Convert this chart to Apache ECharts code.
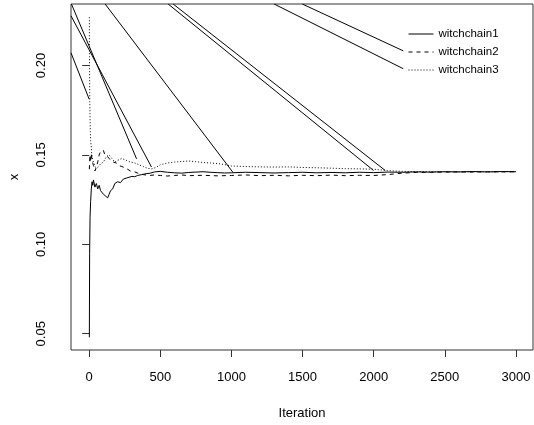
<!DOCTYPE html>
<html>
<head>
<meta charset="utf-8">
<script src="https://cdn.jsdelivr.net/npm/echarts@6/dist/echarts.min.js"></script>
<style>
html,body{margin:0;padding:0;background:#fff;}
#chart{width:534px;height:425px;}
</style>
</head>
<body>
<div id="chart"></div>
<script>
// ---- data ----
const seriesNames = ['witchchain1', 'witchchain2', 'witchchain3'];
const xTicks = [0, 500, 1000, 1500, 2000, 2500, 3000];
const yTicks = [0.05, 0.10, 0.15, 0.20];

const chain1X = [1,3,6,10,15,20,25,30,40,50,60,70,80,90,100,115,130,140,150,165,180,200,220,240,260,280,300,320,340,370,400,430,460,500,550,600,650,700,750,800,850,900,950,1000,1100,1200,1300,1400,1500,1600,1700,1800,1900,2000,2100,2200,2300,2400,2500,2600,2700,2800,2900,3000];
const chain1Y = [0.048,0.095,0.115,0.124,0.131,0.135,0.133,0.136,0.132,0.134,0.131,0.133,0.130,0.131,0.128,0.127,0.126,0.128,0.130,0.131,0.134,0.135,0.1345,0.1365,0.137,0.1375,0.138,0.1378,0.1385,0.139,0.1395,0.1398,0.1405,0.1408,0.1403,0.1400,0.1398,0.1402,0.1404,0.1406,0.1403,0.1401,0.1399,0.1400,0.1403,0.1401,0.1399,0.1401,0.1403,0.1400,0.1402,0.1400,0.1403,0.1401,0.1404,0.1403,0.1405,0.1404,0.1406,0.1405,0.1407,0.1405,0.1407,0.1406];

const chain2X = [1,5,10,15,20,30,40,50,60,70,80,90,100,110,120,130,150,170,190,210,230,260,290,320,350,380,420,460,500,550,600,650,700,800,900,1000,1100,1200,1300,1400,1500,1600,1700,1800,1900,2000,2100,2200,2300,2400,2500,2600,2700,2800,2900,3000];
const chain2Y = [0.142,0.150,0.146,0.151,0.147,0.144,0.141,0.143,0.146,0.150,0.152,0.153,0.1525,0.150,0.151,0.149,0.147,0.146,0.1455,0.144,0.1435,0.1425,0.141,0.1405,0.1395,0.139,0.1385,0.1388,0.1385,0.1382,0.1385,0.1388,0.1384,0.1386,0.1383,0.1385,0.1388,0.1384,0.1386,0.1383,0.1386,0.1384,0.1387,0.1384,0.1386,0.1385,0.1390,0.1398,0.1402,0.1403,0.1404,0.1405,0.1404,0.1406,0.1405,0.1406];

const chain3X = [1,2,3,4,6,8,10,14,18,25,35,45,60,80,100,120,140,160,180,200,230,260,290,320,350,380,410,440,470,500,550,600,650,700,750,800,850,900,950,1000,1100,1200,1300,1400,1500,1600,1700,1800,1900,2000,2100,2200,2300,2400,2500,2600,2700,2800,2900,3000];
const chain3Y = [0.227,0.205,0.192,0.180,0.170,0.163,0.158,0.155,0.150,0.147,0.145,0.143,0.143,0.145,0.146,0.149,0.150,0.148,0.146,0.147,0.148,0.147,0.146,0.1455,0.1445,0.1435,0.1425,0.1422,0.143,0.1445,0.1455,0.146,0.1463,0.1466,0.1462,0.1458,0.1455,0.1452,0.1446,0.1438,0.1435,0.1433,0.1432,0.1433,0.1430,0.1428,0.1426,0.1423,0.1422,0.1420,0.1412,0.1408,0.1407,0.1406,0.1406,0.1405,0.1406,0.1405,0.1406,0.1406];

// straight connecting strokes visible in the reference (start/end in data units)
const strokeStartX = [-125, -128, -128, 112, 555, 590, 1300, 1498];
const strokeStartY = [0.2344, 0.2278, 0.2071, 0.2344, 0.2344, 0.2344, 0.2344, 0.2344];
const strokeEndX   = [333, 438, 0, 1009, 1999, 2081, 2208, 2208];
const strokeEndY   = [0.1478, 0.1432, 0.1811, 0.1404, 0.1413, 0.1413, 0.1982, 0.2082];

// ---- chart ----
const FONT = 'Liberation Sans, Arial, sans-serif';
function zip(xs, ys) { return xs.map((x, i) => [x, ys[i]]); }

const chainTypes = ['solid', [4, 4], [1, 2]];
const chainData = [zip(chain1X, chain1Y), zip(chain2X, chain2Y), zip(chain3X, chain3Y)];

const series = [];
for (let i = 0; i < strokeStartX.length; i++) {
  series.push({
    type: 'line', name: 'stroke' + i, silent: true,
    data: [[strokeStartX[i], strokeStartY[i]], [strokeEndX[i], strokeEndY[i]]],
    symbol: 'none', clip: true,
    lineStyle: { color: '#000', width: 1 }
  });
}
seriesNames.forEach((n, i) => {
  series.push({
    type: 'line', name: n, data: chainData[i],
    symbol: 'none', clip: true,
    lineStyle: { color: '#000', width: 1, type: chainTypes[i] },
    itemStyle: { color: '#000' }
  });
});

const chart = echarts.init(document.getElementById('chart'), null, { renderer: 'canvas' });
chart.setOption({
  animation: false,
  backgroundColor: '#fff',
  textStyle: { fontFamily: FONT },
  grid: { left: 69, right: 1, top: 4, bottom: 72, show: true, borderColor: '#333', borderWidth: 1, containLabel: false },
  legend: {
    data: seriesNames,
    orient: 'vertical',
    left: 403, top: 23,
    itemWidth: 25, itemHeight: 14, itemGap: 6,
    itemStyle: { opacity: 0 },
    lineStyle: { width: 1 },
    textStyle: { fontSize: 11.5, color: '#000', fontFamily: FONT },
    inactiveColor: '#000'
  },
  xAxis: {
    type: 'value', min: -128, max: 3120,
    name: 'Iteration', nameLocation: 'middle', nameGap: 57,
    nameTextStyle: { fontSize: 13, color: '#000', fontFamily: FONT },
    axisLine: { show: false },
    splitLine: { show: false },
    axisTick: { show: true, inside: false, length: 7, customValues: xTicks, lineStyle: { color: '#333' } },
    axisLabel: { customValues: xTicks, margin: 21, fontSize: 13, color: '#000', fontFamily: FONT,
      formatter: v => String(v) }
  },
  yAxis: {
    type: 'value', min: 0.0409, max: 0.2344,
    name: 'x', nameLocation: 'middle', nameGap: 50,
    nameTextStyle: { fontSize: 13, color: '#000', fontFamily: FONT },
    axisLine: { show: false },
    splitLine: { show: false },
    axisTick: { show: true, inside: false, length: 7, customValues: yTicks, lineStyle: { color: '#333' } },
    axisLabel: { customValues: yTicks, rotate: 90, margin: 23, fontSize: 13, color: '#000', fontFamily: FONT,
      formatter: v => v.toFixed(2) }
  },
  series: series
});
</script>
</body>
</html>
